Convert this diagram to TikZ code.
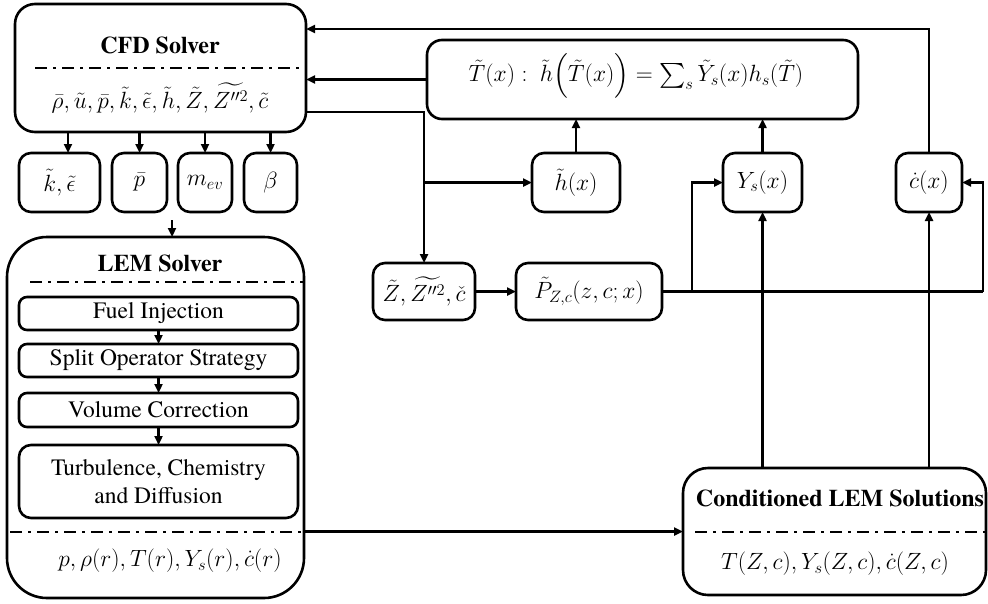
\RequirePackage{fix-cm}
\documentclass[tikz,border=0pt]{standalone}
\usepackage{amsmath}
\usepackage{exscale}
\usepackage{fontspec}
\setmainfont{texgyretermes}[Extension=.otf, UprightFont=*-regular, BoldFont=*-bold, ItalicFont=*-italic, BoldItalicFont=*-bolditalic]
\usetikzlibrary{arrows.meta}
\begin{document}
\begin{tikzpicture}[x=1pt,y=1pt,
  font=\fontsize{23.5}{27.5}\selectfont,
  every node/.style={inner sep=0pt, outer sep=0pt},
  bx/.style={draw, line width=2.6pt, rectangle, rounded corners=#1},
  bx/.default=12pt,
  arr/.style={line width=2.8pt, -{Triangle[length=9pt,width=8pt]}},
  ln/.style={line width=2.8pt},
  dd/.style={line width=2.8pt, dash pattern=on 12pt off 6pt on 3pt off 6pt},
  ttl/.style={font=\fontsize{24}{28}\selectfont\bfseries}]
\useasboundingbox (0,0) rectangle (988,-603);

% CFD solver
\node[bx=20pt, minimum width=291pt, minimum height=128pt] (cfd) at (160.5,-68) {};
\node[ttl] (cfdt) at (160,-45) {CFD Solver};
\node (cfdm) at (160,-98) {$\bar{\rho},\tilde{u},\bar{p},\tilde{k},\tilde{\epsilon},\tilde{h},\tilde{Z},\widetilde{Z''^2},\tilde{c}$};
\draw[dd] (35,-68) -- (cfd.east |- 0,-68);

% small boxes
\node[bx, minimum width=81pt, minimum height=59pt] (ke) at (59.5,-182.5) {$\tilde{k},\tilde{\epsilon}$};
\node[bx, minimum width=55pt, minimum height=59pt] (pb) at (139.5,-182.5) {$\bar{p}$};
\node[bx, minimum width=54pt, minimum height=59pt] (mev) at (205,-182.5) {$m_{ev}$};
\node[bx, minimum width=53pt, minimum height=59pt] (beta) at (270.5,-182.5) {$\beta$};

% LEM solver
\node[bx=40pt, minimum width=297pt, minimum height=361pt] (lem) at (155.5,-417.5) {};
\node[ttl] (lemt) at (160,-263) {LEM Solver};
\draw[dd] (30,-282) -- (lem.east |- 0,-282);
\node[bx=8pt, minimum width=279pt, minimum height=33pt] (fuel) at (158.5,-313.5) {Fuel Injection};
\node[bx=8pt, minimum width=279pt, minimum height=33pt] (split) at (158.5,-360.5) {Split Operator Strategy};
\node[bx=8pt, minimum width=279pt, minimum height=34pt] (vol) at (158.5,-410) {Volume Correction};
\node[bx=12pt, minimum width=279pt, minimum height=73pt, align=center] (turb) at (158.5,-481.5) {Turbulence, Chemistry\\and Diffusion};
\draw[dd] (10,-532) -- (lem.east |- 0,-532);
\node (lemm) at (170,-561) {$p,\rho(r),T(r),Y_s(r),\dot{c}(r)$};

% T box
\node[bx=15pt, minimum width=431pt, minimum height=79pt] (tbox) at (642.5,-79.5) {};
\node (teq) at (636,-76) {$\tilde{T}(x):\ \tilde{h}\Big(\tilde{T}(x)\Big) = \sum\nolimits_s \tilde{Y}_s(x)h_s(\tilde{T})$};

% middle boxes
\node[bx, minimum width=88pt, minimum height=59pt] (hx) at (576,-182.5) {$\tilde{h}(x)$};
\node[bx, minimum width=79pt, minimum height=59pt] (ysx) at (762.5,-182.5) {$Y_s(x)$};
\node[bx, minimum width=66pt, minimum height=59pt] (cx) at (929,-182.5) {$\dot{c}(x)$};
\node[bx, minimum width=102pt, minimum height=57pt] (zb) at (424,-291.5) {$\tilde{Z},\widetilde{Z''^2},\check{c}$};
\node[bx, minimum width=146pt, minimum height=57pt] (pz) at (589,-291.5) {$\tilde{P}_{Z,c}(z,c;x)$};

% conditioned
\node[bx=25pt, minimum width=303pt, minimum height=127pt] (cond) at (834.5,-531.5) {};
\node[ttl] (condt) at (840,-498) {Conditioned LEM Solutions};
\draw[dd] (695,-532) -- (cond.east |- 0,-532);
\node (condm) at (835,-564) {$T(Z,c),Y_s(Z,c),\dot{c}(Z,c)$};

% connectors
\coordinate (top) at (cx.north |- 0,-29);
\draw[arr] (cx.north) -- (top) -- (cfd.east |- top);
\draw[arr] (tbox.west) -- (tbox.west -| cfd.east);
\coordinate (j1) at (zb.north |- 0,-112);
\coordinate (j2) at (zb.north |- hx.west);
\draw[arr] (cfd.east |- j1) -- (j1) -- (j2) -- (hx.west);
\draw[arr] (j2) -- (zb.north);

\draw[arr] (68,0 |- cfd.south) -- (68,0 |- ke.north);
\draw[arr] (pb.north |- cfd.south) -- (pb.north);
\draw[arr] (mev.north |- cfd.south) -- (mev.north);
\draw[arr] (beta.north |- cfd.south) -- (beta.north);

\coordinate (m) at (172,-220);
\draw[arr] (m) -- (m |- lem.north);
\draw[arr] (fuel.south) -- (split.north);
\draw[arr] (split.south) -- (vol.north);
\draw[arr] (vol.south) -- (turb.north);

\draw[arr] (hx.north) -- (hx.north |- tbox.south);
\draw[arr] (ysx.north) -- (ysx.north |- tbox.south);
\draw[arr] (zb.east) -- (pz.west);

\coordinate (r1) at (983,0 |- pz.east);
\coordinate (r2) at (983,0 |- cx.east);
\coordinate (b1) at (692,0 |- pz.east);
\coordinate (b2) at (692,0 |- ysx.west);
\draw[ln] (pz.east) -- (r1);
\draw[arr] (r1) -- (r2) -- (cx.east);
\draw[arr] (b1) -- (b2) -- (ysx.west);

\draw[arr] (ysx.south |- cond.north) -- (ysx.south);
\draw[arr] (cx.south |- cond.north) -- (cx.south);
\draw[arr] (cond.west -| lem.east) -- (cond.west);
\end{tikzpicture}
\end{document}
